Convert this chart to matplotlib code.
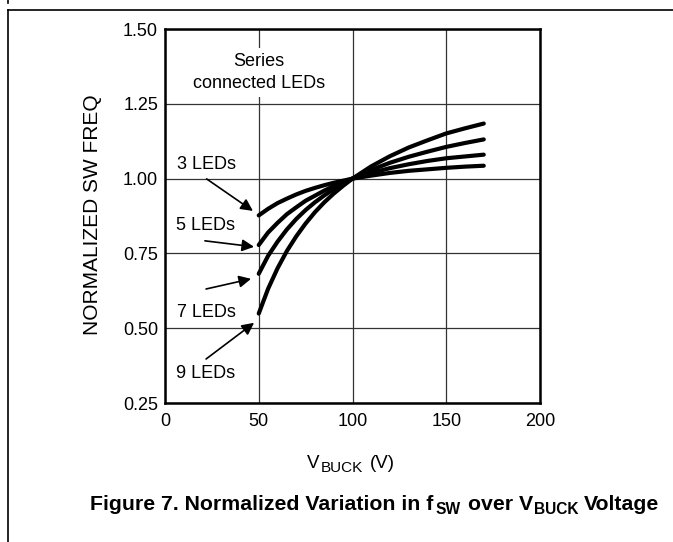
import matplotlib
matplotlib.use('Agg')
import matplotlib.pyplot as plt
from matplotlib.lines import Line2D

plt.rcParams['font.family'] = ['Liberation Sans', 'DejaVu Sans']

W, H = 673, 542

# buck input voltage (V)
v_buck = [50, 55, 60, 65, 70, 75, 80, 85, 90, 95, 100, 110, 120, 130, 140, 150, 160, 170]

# normalized switching frequency
led3 = [0.877, 0.899, 0.918, 0.933, 0.947, 0.959, 0.969, 0.978, 0.986, 0.993, 1.0,
        1.010, 1.019, 1.026, 1.031, 1.036, 1.040, 1.043]
led5 = [0.778, 0.820, 0.852, 0.881, 0.904, 0.926, 0.943, 0.960, 0.975, 0.988, 1.0,
        1.019, 1.035, 1.048, 1.059, 1.068, 1.074, 1.080]
led7 = [0.682, 0.742, 0.789, 0.830, 0.865, 0.895, 0.921, 0.944, 0.965, 0.983, 1.0,
        1.029, 1.053, 1.073, 1.090, 1.106, 1.119, 1.131]
led9 = [0.549, 0.632, 0.700, 0.758, 0.807, 0.850, 0.888, 0.921, 0.950, 0.976, 1.0,
        1.041, 1.075, 1.104, 1.128, 1.151, 1.168, 1.184]

labels = ['3 LEDs', '5 LEDs', '7 LEDs', '9 LEDs']
label_xy = [(22.1, 1.048), (21.6, 0.844), (22.1, 0.554), (21.9, 0.350)]
arrow_tail = [(22.2, 0.999), (21.3, 0.792), (21.9, 0.631), (21.9, 0.397)]
arrow_head = [(46.9, 0.892), (47.5, 0.772), (45.9, 0.665), (47.5, 0.518)]


def pieces_text(fig, pieces, x0, ybase):
    # pieces: (text, size, weight, gap before in px, baseline shift in px)
    r = fig.canvas.get_renderer()
    x = x0
    for s, size, weight, gap, dy in pieces:
        x += gap
        t = fig.text(x / W, 1 - (ybase + dy) / H, s, fontsize=size,
                     fontweight=weight, ha='left', va='baseline')
        x += t.get_window_extent(r).width


fig = plt.figure(figsize=(W / 100, H / 100), dpi=100)
ax = fig.add_axes([165 / W, 1 - 403 / H, 375 / W, 374 / H])

for ys in (led3, led5, led7, led9):
    ax.plot(v_buck, ys, color='black', lw=3.0, solid_capstyle='round',
            solid_joinstyle='round', zorder=3)

ax.set_xlim(0, 200)
ax.set_ylim(0.25, 1.50)
ax.set_xticks([0, 50, 100, 150, 200])
ax.set_yticks([0.25, 0.50, 0.75, 1.00, 1.25, 1.50])
ax.set_yticklabels(['0.25', '0.50', '0.75', '1.00', '1.25', '1.50'])
ax.tick_params(length=0, labelsize=13)
ax.tick_params(axis='x', pad=7)
ax.tick_params(axis='y', pad=5)
ax.grid(True, color='#333333', lw=0.9)
for s in ax.spines.values():
    s.set_linewidth(1.8)

fig.text(93 / W, 1 - 215 / H, 'NORMALIZED SW FREQ', fontsize=15, rotation=90,
         ha='center', va='center')

ax.text(50, 1.355, 'Series\nconnected LEDs', fontsize=13, ha='center', va='center',
        linespacing=1.35, zorder=4,
        bbox=dict(facecolor='white', edgecolor='none', pad=4))

for lab, txy, tail, head in zip(labels, label_xy, arrow_tail, arrow_head):
    ax.text(txy[0], txy[1], lab, fontsize=13, ha='center', va='center', zorder=4)
    ax.annotate('', xy=head, xytext=tail,
                arrowprops=dict(arrowstyle='-|>', color='black', lw=1.2,
                                mutation_scale=18, shrinkA=0, shrinkB=0))

# x axis label
pieces_text(fig, [('V', 13.5, 'normal', 0, 0),
                  ('BUCK', 11, 'normal', 1, 3.5),
                  ('(V)', 13.5, 'normal', 7, 0)], 307, 468)

# caption
pieces_text(fig, [('Figure 7. Normalized Variation in f', 15.3, 'bold', 0, 0),
                  ('SW', 11.2, 'bold', 2, 4),
                  ('over V', 15.3, 'bold', 7, 0),
                  ('BUCK', 11.2, 'bold', 1, 4),
                  ('Voltage', 15.3, 'bold', 6, 0)], 90, 510)

# page frame lines
fig.add_artist(Line2D([8 / W, 1.0], [1 - 9.5 / H, 1 - 9.5 / H], color='black', lw=1.2))
fig.add_artist(Line2D([8 / W, 8 / W], [0.0, 1 - 9.5 / H], color='black', lw=1.2))
fig.add_artist(Line2D([8 / W, 8 / W], [1.0, 1 - 3 / H], color='black', lw=1.2))

fig.savefig('out.png', dpi=100)
